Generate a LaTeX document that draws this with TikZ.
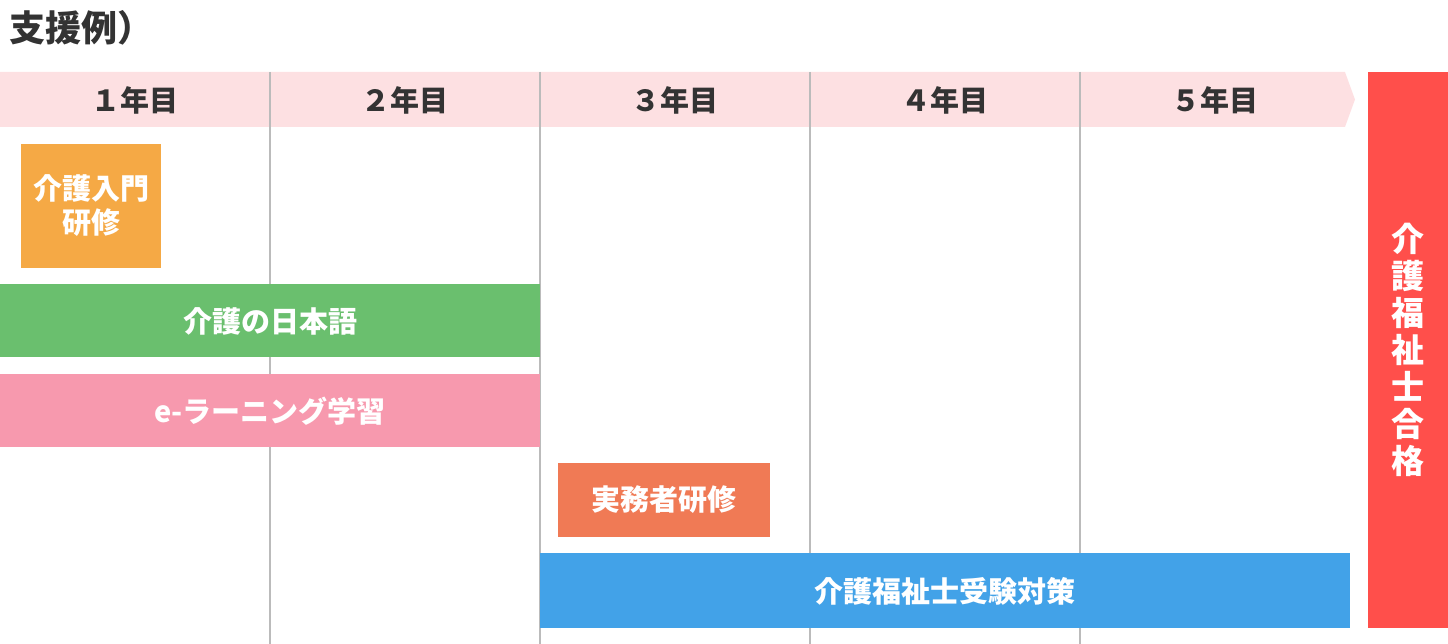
\documentclass[tikz,border=0pt]{standalone}
\usepackage{fontspec}
\setmainfont{Noto Sans CJK JP}
\definecolor{hdrpink}{HTML}{FDE0E2}
\definecolor{txtgray}{HTML}{333333}
\definecolor{gridgray}{HTML}{BBBBBB}
\definecolor{orangebox}{HTML}{F5A945}
\definecolor{greenbox}{HTML}{6ABF6E}
\definecolor{pinkbox}{HTML}{F799AE}
\definecolor{coralbox}{HTML}{F07A55}
\definecolor{bluebox}{HTML}{42A2E8}
\definecolor{redbox}{HTML}{FF4F4B}
\begin{document}
\begin{tikzpicture}[x=1pt,y=-1pt,
  yr/.style={text=txtgray,font=\fontsize{29}{33}\selectfont\bfseries},
  bar/.style={text=white,font=\fontsize{29}{34}\selectfont\bfseries,align=center}]
\useasboundingbox (0,0) rectangle (1448,644);
\node[anchor=west,text=txtgray,font=\fontsize{36}{40}\selectfont\bfseries,inner sep=0] (title) at (9,28) {支援例）};
\fill[hdrpink] (0,72) -- (1345,72) -- (1355,99.5) -- (1345,127) -- (0,127) -- cycle;
\foreach\x in {270,540,810,1080} {
  \draw[gridgray,line width=1.5pt] (\x,72) -- (\x,644);
}
\foreach\n [count=\i] in {１,２,３,４,５} {
  \node[yr] (year\i) at (135+270*\i-270,100) {\n 年目};
}
\fill[orangebox] (21,144) rectangle (161,268);
\node[bar] (nyumon) at (91,206) {介護入門\\研修};
\fill[greenbox] (0,284) rectangle (540,357);
\node[bar] (nihongo) at (270,321) {介護の日本語};
\fill[pinkbox] (0,374) rectangle (540,447);
\node[bar] (elearn) at (270,411) {e-ラーニング学習};
\fill[coralbox] (558,463) rectangle (770,537);
\node[bar] (jitsumu) at (664,500) {実務者研修};
\fill[bluebox] (540,553) rectangle (1350,628);
\node[bar] (juken) at (945,591) {介護福祉士受験対策};
\fill[redbox] (1368,72) rectangle (1448,628);
\node[text=white,font=\fontsize{33}{37}\selectfont\bfseries,align=center] (gokaku) at (1408,350) {介\\護\\福\\祉\\士\\合\\格};
\end{tikzpicture}
\end{document}
